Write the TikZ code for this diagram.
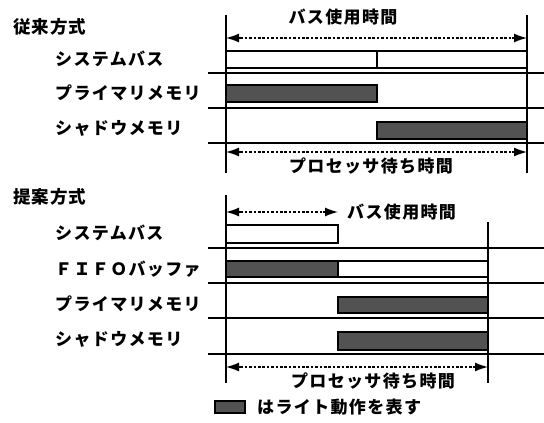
\documentclass[tikz,border=0pt]{standalone}
\usepackage{fontspec}
\newfontfamily\jp{Noto Sans CJK JP}[LetterSpace=8]
\newfontfamily\jpt{Noto Sans CJK JP}[LetterSpace=6]
\usetikzlibrary{arrows.meta}
\begin{document}
\begin{tikzpicture}[x=1pt,y=-1pt,
  lbl/.style={anchor=west,inner sep=0pt,font=\jp\bfseries\fontsize{17}{18}\selectfont},
  ttl/.style={anchor=west,inner sep=0pt,font=\jpt\bfseries\fontsize{17.5}{18}\selectfont},
  sep/.style={line width=1.4pt},
  vl/.style={line width=1.4pt},
  wbox/.style={draw,line width=1.1pt,fill=white},
  wr/.style={draw,line width=1.1pt,fill=black!68},
  dimline/.style={line width=1.9pt,dash pattern=on 2.6pt off 1.8pt,shorten <=10pt,shorten >=10pt},
  dimtip/.style={line width=1.4pt,solid,-{Latex[length=13pt,width=9pt]}}]
\useasboundingbox (0,0) rectangle (544,423);

% ---------- conventional ----------
\node[ttl] (t1) at (13,27) {従来方式};
\node[lbl] (a1) at (55,59) {システムバス};
\node[lbl] (a2) at (55,93) {プライマリメモリ};
\node[lbl] (a3) at (55,128) {シャドウメモリ};

\draw[vl] (226,15) -- (226,173);
\draw[vl] (527,15) -- (527,173);
\draw[sep] (208,73) -- (544,73);
\draw[sep] (208,108) -- (544,108);
\draw[sep] (208,143) -- (544,143);

\draw[wbox] (226,51) rectangle (377,68);
\draw[wbox] (377,51) rectangle (527,68);
\draw[wr] (226,85) rectangle (377,102);
\draw[wr] (377,122) rectangle (527,139);

\coordinate (u1l) at (226,38);
\coordinate (u1r) at (527,38);
\draw[dimline] (u1l) -- (u1r);
\draw[dimtip] ([xshift=15pt]u1l) -- (u1l);
\draw[dimtip] ([xshift=-15pt]u1r) -- (u1r);
\node[lbl,anchor=center] (u1t) at (343,17) {バス使用時間};

\coordinate (w1l) at (226,152);
\coordinate (w1r) at (527,152);
\draw[dimline] (w1l) -- (w1r);
\draw[dimtip] ([xshift=15pt]w1l) -- (w1l);
\draw[dimtip] ([xshift=-15pt]w1r) -- (w1r);
\node[lbl,anchor=center] (w1t) at (371,166) {プロセッサ待ち時間};

% ---------- proposed ----------
\node[ttl] (t2) at (13,197) {提案方式};
\node[lbl] (b1) at (55,233) {システムバス};
\node[lbl] (b2) at (55,269) {ＦＩＦＯバッファ};
\node[lbl] (b3) at (55,304) {プライマリメモリ};
\node[lbl] (b4) at (55,339) {シャドウメモリ};

\draw[vl] (226,195) -- (226,383);
\draw[vl] (488,222) -- (488,383);
\draw[sep] (208,248) -- (544,248);
\draw[sep] (208,283) -- (544,283);
\draw[sep] (208,318) -- (544,318);
\draw[sep] (208,354) -- (544,354);

\draw[wbox] (226,225) rectangle (338,243);
\draw[wbox] (226,261) rectangle (488,277);
\draw[wr] (226,261) rectangle (338,277);
\draw[wr] (338,297) rectangle (488,313);
\draw[wr] (338,332) rectangle (488,350);

\coordinate (u2l) at (226,212);
\coordinate (u2r) at (338,212);
\draw[dimline] (u2l) -- (u2r);
\draw[dimtip] ([xshift=15pt]u2l) -- (u2l);
\draw[dimtip] ([xshift=-15pt]u2r) -- (u2r);
\node[lbl] (u2t) at (347,212) {バス使用時間};

\coordinate (w2l) at (226,367);
\coordinate (w2r) at (488,367);
\draw[dimline] (w2l) -- (w2r);
\draw[dimtip] ([xshift=15pt]w2l) -- (w2l);
\draw[dimtip] ([xshift=-15pt]w2r) -- (w2r);
\node[lbl,anchor=center] (w2t) at (373,381) {プロセッサ待ち時間};

% ---------- legend ----------
\draw[wr] (215,401) rectangle (245,413);
\node[lbl] (leg) at (257,407) {はライト動作を表す};
\end{tikzpicture}
\end{document}
